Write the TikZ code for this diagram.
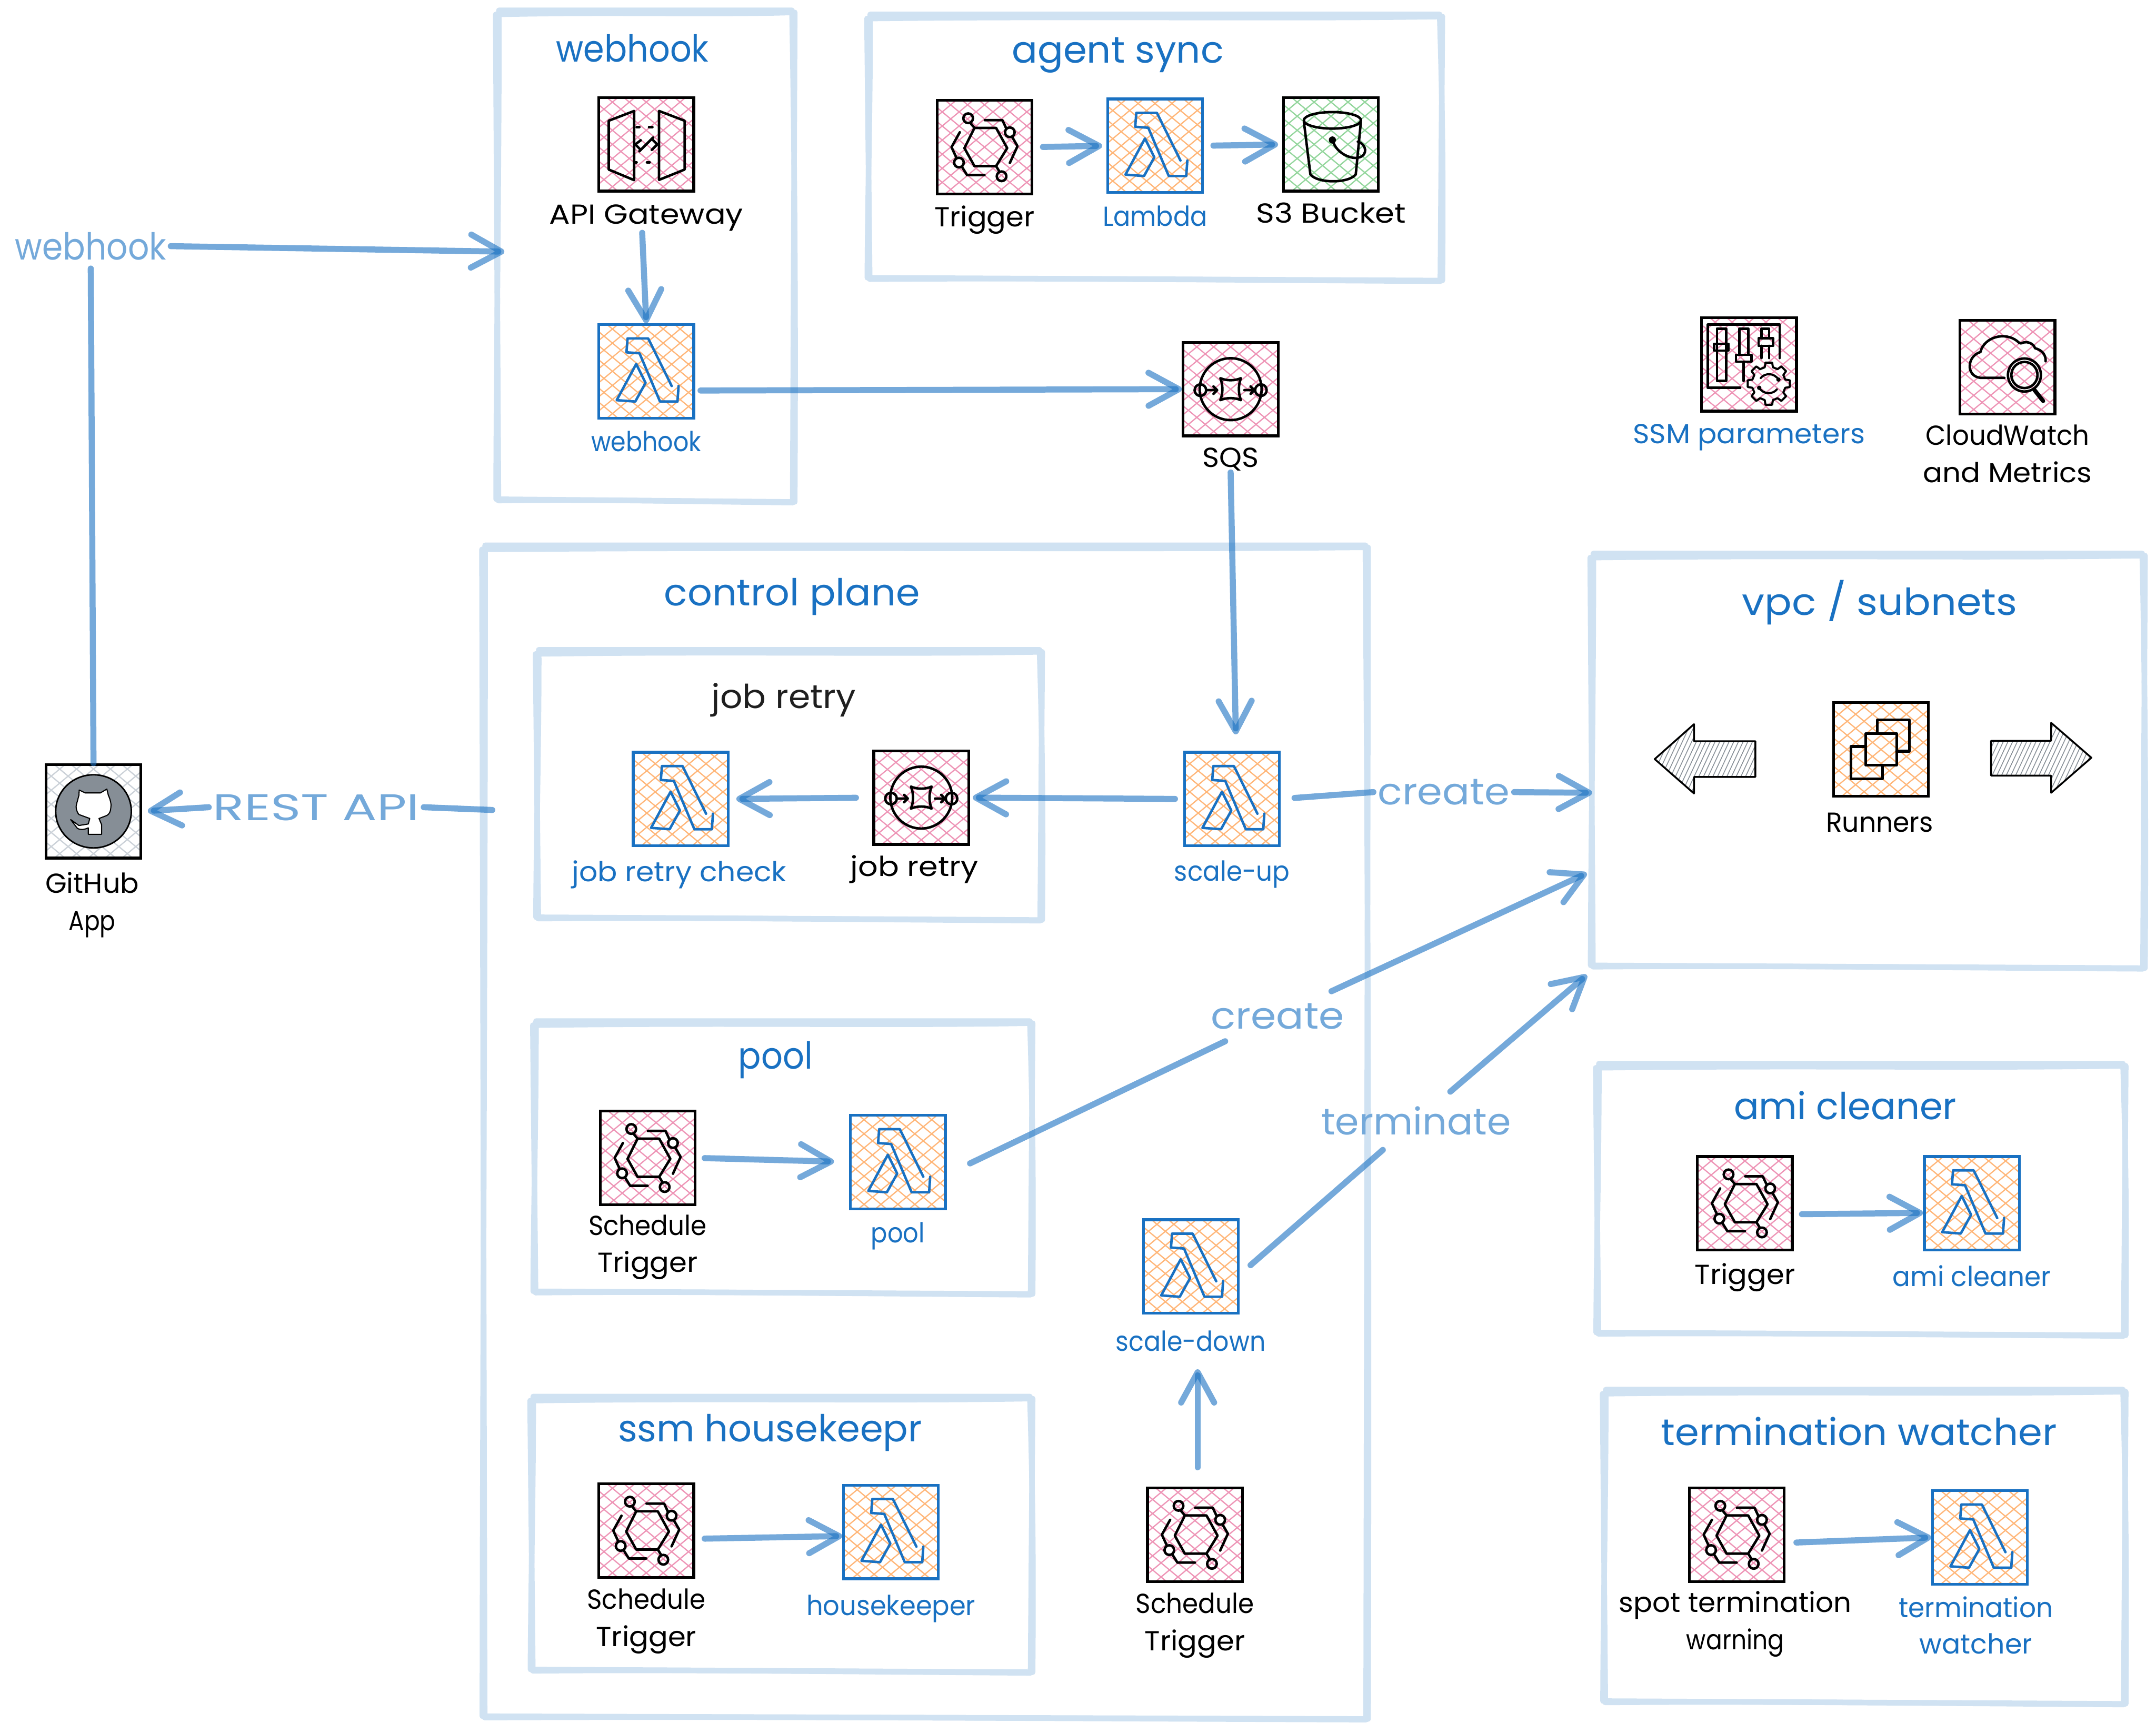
\documentclass[tikz,border=0pt]{standalone}
\usepackage{fontspec}
\usepackage{graphicx}
\setmainfont{Poppins}
\usetikzlibrary{arrows.meta,calc}
\definecolor{cbox}{HTML}{D0E2F2}
\definecolor{bluet}{HTML}{1971C2}
\definecolor{flowt}{HTML}{74A9DA}
\definecolor{hpink}{HTML}{EE94B6}
\definecolor{horange}{HTML}{FFB678}
\definecolor{hgreen}{HTML}{93D69C}
\definecolor{hgray}{HTML}{CBD1D8}
\definecolor{ghgray}{HTML}{868E96}
\newcommand{\fitw}[2]{\resizebox{#1pt}{\height}{#2}}
\tikzset{
  x=1pt,y=-1pt,
  iconbox/.style={draw,line width=2pt,minimum width=69pt,minimum height=68pt,inner sep=0pt},
  glyph/.style={line width=1.8pt,line join=round,line cap=round},
  cstroke/.style={draw=cbox,line width=4pt,line cap=round,line join=round},
  sarrow/.style={draw=bluet,draw opacity=.6,line width=4.4pt,line cap=round,-{Straight Barb[length=22pt,width=24pt,line cap=round,round]}},
  sline/.style={draw=bluet,draw opacity=.6,line width=4.4pt,line cap=round},
  lbla/.style={inner sep=1pt,align=center,text=black,font=\fontsize{20}{27}\selectfont},
  lblb/.style={inner sep=1pt,align=center,text=bluet,font=\fontsize{20}{26.5}\selectfont},
  ttlb/.style={inner sep=1pt,align=center,text=bluet,font=\fontsize{27}{30}\selectfont},
  ttlk/.style={inner sep=1pt,align=center,text=black!88,font=\fontsize{24}{30}\selectfont},
  flowl/.style={inner sep=3pt,align=center,text=flowt,font=\fontsize{27}{30}\selectfont},
  hatchline/.style={line width=.9pt},
  blockhatch/.style={draw=ghgray,line width=.6pt},
  blockedge/.style={draw=black,line width=1.3pt,line join=round},
}
% container: named rectangle with two loose strokes
\newcommand{\sketchrect}[5]{%
  \path (#2,#3) coordinate (#1nw) (#4,#5) coordinate (#1se);
  \node[inner sep=0pt,minimum width={#4-#2},minimum height={#5-#3}] (#1) at ({(#2+#4)/2},{(#3+#5)/2}) {};
  \draw[cstroke] (#2-1.5,#3+1.5) .. controls ({#2+(#4-#2)*.4},#3-.5) and ({#2+(#4-#2)*.7},#3+2) .. (#4+1,#3) -- (#4-.5,#5+1.5) .. controls ({#2+(#4-#2)*.6},#5+.5) and ({#2+(#4-#2)*.3},#5-1) .. (#2+.5,#5) -- cycle;
  \draw[cstroke] (#2+.8,#3-1.5) -- (#4-1,#3-1.5) .. controls (#4+1.5,{#3+(#5-#3)*.4}) and (#4+1.5,{#3+(#5-#3)*.7}) .. (#4+1,#5+1) -- (#2-1.2,#5-1) .. controls (#2-1,{#3+(#5-#3)*.7}) and (#2+1,{#3+(#5-#3)*.3}) .. cycle;
}
% icon box: name, cx, cy, hatch colour, border colour, glyph
\newcommand{\iconat}[6]{%
  \begin{scope}[shift={(#2,#3)}]
    \begin{scope}
      \clip (-34.5,-34) rectangle (34.5,34);
      \foreach \i in {-9,...,9}{
        \draw[#4,hatchline] ({\i*12.3-42},-35) -- ({\i*12.3+42},35);
        \draw[#4,hatchline] ({\i*12.3+42},-35) -- ({\i*12.3-42},35);
      }
    \end{scope}
    \node[iconbox,draw=#5] (#1) at (0,0) {};
    #6
  \end{scope}}
\newcommand{\lambdaglyph}{%
  \draw[glyph,bluet] (18.5,10.7) -- (1.4,-23.9) -- (-13.6,-23.9) -- (-14.4,-13.8) -- (-4.9,-13.1) -- (10,22) -- (22.7,22) -- (23.5,10.7);
  \draw[glyph,bluet] (-7.3,-5.3) -- (-.5,8.4) -- (-8,22) -- (-21.5,21) -- cycle;}
\newcommand{\triggerglyph}{%
  \draw[glyph] (-7.3,-14) -- (8.4,-14) -- (16.5,.7) -- (8.4,13.8) -- (-7.3,13.8) -- (-14.6,.7) -- cycle;
  \draw[glyph] (-11.9,-21) circle[radius=3.5] (-10.5,-17.8) -- (-7.3,-14);
  \draw[glyph] (.2,-19.6) -- (13,-19.6) -- (15.8,-13.6);
  \draw[glyph] (18.4,-10.8) circle[radius=3.5] (20,-7.6) -- (24,-.7) -- (18.4,11.5);
  \draw[glyph] (-18,-10.8) -- (-24,0) -- (-20.5,7.6);
  \draw[glyph] (-18.6,11.2) circle[radius=3.5] (-16.5,14.2) -- (-12.7,20.3) -- (0,20.3);
  \draw[glyph] (12.4,21.2) circle[radius=3.5] (11,18) -- (8.4,13.8);}
\newcommand{\sqsglyph}{%
  \draw[glyph] (0,0) circle[radius=22.5];
  \draw[glyph] (-22,.7) circle[radius=4.2] (22,.7) circle[radius=4.2];
  \draw[glyph] (-7.5,-8) .. controls (-3,-6) and (3,-6) .. (7.5,-8) .. controls (5.5,-3) and (5.5,3) .. (7.5,8) .. controls (3,6) and (-3,6) .. (-7.5,8) .. controls (-5.5,3) and (-5.5,-3) .. cycle;
  \draw[glyph] (-17,.7) -- (-10,.7) (-12.5,-2) -- (-9.8,.7) -- (-12.5,3.4);
  \draw[glyph] (10,.7) -- (17,.7) (14.5,-2) -- (17.2,.7) -- (14.5,3.4);}
\newcommand{\apiglyph}{%
  \draw[glyph] (-8.8,-24.3) -- (-27.3,-17.2) -- (-27.3,18.3) -- (-8.8,26) -- cycle;
  \draw[glyph] (9.3,-24.3) -- (27.9,-17.2) -- (27.9,18.3) -- (9.3,25.8) -- cycle;
  \draw[glyph] (-7,-12.6) -- (-5,-12.6) (2,-12.6) -- (4.5,-12.6) (-8.8,13) -- (-7,13) (.5,13) -- (2.5,13);
  \draw[glyph] (-4,-3) -- (-8,0) -- (-4,4) (4,-4) -- (8,0) -- (4,4) (-5,5) -- (5,-5);}
\newcommand{\bucketglyph}{%
  \draw[glyph] (1,-17.5) ellipse[x radius=20.8,y radius=6];
  \draw[glyph] (-19.7,-16.2) -- (-15,21.8) .. controls (-10,28.5) and (13,28.5) .. (18,21.8) -- (21.7,-16.2);
  \fill (1,-3.2) circle[radius=2.6];
  \draw[glyph] (1.5,-2) .. controls (4,6) and (14,11) .. (20,9.6) .. controls (27,8) and (26,0) .. (19.5,-2);}
\newcommand{\ssmglyph}{%
  \draw[glyph] (-6.4,17) -- (-30,17) -- (-30,-29) -- (22.3,-29) -- (22.3,-4.6);
  \draw[glyph] (-23.3,-26) rectangle (-16.7,12);
  \draw[glyph] (-25.4,-15) rectangle (-15,-10);
  \draw[glyph] (-7,-26) rectangle (-.5,-7);
  \draw[glyph] (-9.5,-7) rectangle (1.8,-2);
  \draw[glyph] (-4,-2) -- (-4,12);
  \draw[glyph] (9,-26) rectangle (14.6,-19);
  \draw[glyph] (7,-19) rectangle (17.4,-13.5);
  \draw[glyph] (9,-13.5) -- (9,-4.6) (14.6,-13.5) -- (14.6,-4.6);
  \begin{scope}[shift={(14.4,14)}]
    \foreach \a in {0,45,...,315}{
      \draw[glyph,line width=1.5pt] (\a-9:15.5) -- (\a+9:15.5) -- (\a+14:12.3) -- (\a+31:12.3) -- (\a+36:15.5);
    }
    \draw[glyph,line width=1.5pt] (-6,-4) .. controls (-3,-8) and (4,-8) .. (7,-3);
    \draw[glyph,line width=1.5pt] (6,4) .. controls (3,8) and (-4,8) .. (-7,3);
    \fill (7,-3) circle[radius=1.6] (-7,3) circle[radius=1.6];
  \end{scope}}
\newcommand{\cwglyph}{%
  \draw[glyph] (-2.3,7.8) -- (-18.5,7.8) .. controls (-25,7.8) and (-28,3) .. (-27.4,-1.6) .. controls (-27,-7) and (-23,-10) .. (-19.7,-11) .. controls (-17,-22) and (-2,-26) .. (7,-19) .. controls (9,-17) and (10,-17) .. (11,-17.8) .. controls (15,-19) and (19,-17) .. (20,-13.8) .. controls (25,-12.5) and (28,-9) .. (27.7,-4.3);
  \draw[glyph] (12.3,5.7) circle[radius=12] (12.3,5.7) circle[radius=9.5];
  \draw[line width=3pt,line cap=round] (19.5,16.5) -- (25.9,24.6);}
\newcommand{\runnerglyph}{%
  \draw[glyph,line width=2pt] (-2.6,-11.6) -- (-2.6,-21.6) -- (20.5,-21.6) -- (20.5,1.3) -- (11.3,1.3);
  \draw[glyph,line width=2pt] (-11,-2.2) -- (-21.8,-2.2) -- (-21.8,21.4) -- (1,21.4) -- (1,11.4);
  \draw[glyph,line width=2pt] (-11,-11.6) rectangle (11.3,11.4);}
\newcommand{\ghglyph}{%
  \draw[line width=1.1pt,fill=ghgray] (0,0) ellipse[x radius=27.5,y radius=26.6];
  \draw[line width=.8pt,fill=white,line join=round] (-10.4,-15.5) -- (-6,-13.4) -- (5,-13.4) -- (9.7,-16.2) -- (10.8,-11.7) .. controls (12.5,-8) and (13,-5) .. (12.6,-2.7) .. controls (12.5,0) and (11.5,2) .. (9.7,3) -- (4,5.2) -- (5.9,9.7) -- (5.9,16.7) -- (-3.8,16.7) -- (-3.8,12) .. controls (-7,13.5) and (-10,13.5) .. (-11.7,12.4) -- (-16.6,6) -- (-10.6,10.3) -- (-3.8,9.2) -- (-2.7,5.2) -- (-10.6,2.3) .. controls (-12.5,0) and (-13,-3) .. (-12.4,-5) -- (-10.6,-11.7) -- cycle;}
\begin{document}
\begin{tikzpicture}
\useasboundingbox[fill=white] (0,0) rectangle (1568,1260.2);

% containers
\sketchrect{cwebhook}{362}{9}{577}{364}
\sketchrect{cagent}{632}{12}{1048}{203}
\sketchrect{ccontrol}{352}{398}{994}{1249}
\sketchrect{cjob}{391}{474}{757}{668}
\sketchrect{cpool}{389}{744}{750}{940}
\sketchrect{cssm}{387}{1017}{750}{1215}
\sketchrect{cvpc}{1158}{404}{1559}{703}
\sketchrect{cami}{1162}{775}{1545}{970}
\sketchrect{cterm}{1167}{1012}{1545}{1238}

% block arrows
\begin{scope}
  \clip (1203.4,552) -- (1232,526.6) -- (1232,539) -- (1276.6,539) -- (1276.6,565) -- (1232,565) -- (1232,577) -- cycle;
  \foreach \i in {0,...,28}{\draw[blockhatch] ({1190+\i*3.4},582) -- ({1190+\i*3.4+28},522);}
\end{scope}
\draw[blockedge] (1203.4,552) -- (1232,526.6) -- (1232,539) -- (1276.6,539) -- (1276.6,565) -- (1232,565) -- (1232,577) -- cycle;
\begin{scope}
  \clip (1521,551) -- (1491.7,525.6) -- (1491.7,538.7) -- (1448,538.7) -- (1448,564) -- (1491.7,564) -- (1491.7,576.5) -- cycle;
  \foreach \i in {0,...,28}{\draw[blockhatch] ({1420+\i*3.4},582) -- ({1420+\i*3.4+28},522);}
\end{scope}
\draw[blockedge] (1521,551) -- (1491.7,525.6) -- (1491.7,538.7) -- (1448,538.7) -- (1448,564) -- (1491.7,564) -- (1491.7,576.5) -- cycle;

% icons
\iconat{apigw}{470}{105}{hpink}{black}{\apiglyph}
\iconat{lamwh}{470}{270}{horange}{bluet}{\lambdaglyph}
\iconat{trag}{716}{107}{hpink}{black}{\triggerglyph}
\iconat{lamag}{840}{106}{horange}{bluet}{\lambdaglyph}
\iconat{sthree}{968}{105}{hgreen}{black}{\bucketglyph}
\iconat{sqs}{895}{283}{hpink}{black}{\sqsglyph}
\iconat{ssm}{1272}{265}{hpink}{black}{\ssmglyph}
\iconat{cw}{1460}{267}{hpink}{black}{\cwglyph}
\iconat{gh}{68}{590}{hgray}{black}{\ghglyph}
\iconat{runners}{1368}{545}{horange}{black}{\runnerglyph}
\iconat{lamjrc}{495}{581}{horange}{bluet}{\lambdaglyph}
\iconat{sqsjr}{670}{580}{hpink}{black}{\sqsglyph}
\iconat{lamup}{896}{581}{horange}{bluet}{\lambdaglyph}
\iconat{trpool}{471}{842}{hpink}{black}{\triggerglyph}
\iconat{lampool}{653}{845}{horange}{bluet}{\lambdaglyph}
\iconat{trssm}{470}{1113}{hpink}{black}{\triggerglyph}
\iconat{lamhk}{648}{1114}{horange}{bluet}{\lambdaglyph}
\iconat{lamdown}{866}{921}{horange}{bluet}{\lambdaglyph}
\iconat{trdown}{869}{1116}{hpink}{black}{\triggerglyph}
\iconat{trami}{1269}{875}{hpink}{black}{\triggerglyph}
\iconat{lamami}{1434}{875}{horange}{bluet}{\lambdaglyph}
\iconat{trterm}{1263}{1116}{hpink}{black}{\triggerglyph}
\iconat{lamterm}{1440}{1118}{horange}{bluet}{\lambdaglyph}

% labels
\node[ttlb] (twebhook) at (460,35) {\fitw{111}{webhook}};
\node[lbla] (lapi) at (470,158.5) {\fitw{141}{API Gateway}};
\node[lblb] (lwh) at (470,321) {\fitw{80}{webhook}};
\node[ttlb] (tagent) at (813,40) {\fitw{154}{agent sync}};
\node[lbla] (ltrag) at (716,160) {\fitw{73}{Trigger}};
\node[lblb] (llamag) at (840,157) {\fitw{76}{Lambda}};
\node[lbla] (lsthree) at (968,155) {\fitw{109}{S3 Bucket}};
\node[lbla] (lsqs) at (895,334) {\fitw{41}{SQS}};
\node[lblb] (lssm) at (1272,318) {\fitw{169}{SSM parameters}};
\node[lbla] (lcw) at (1460,330) {\fitw{119}{CloudWatch}\\\fitw{123}{and Metrics}};
\node[ttlb] (tcontrol) at (576,434) {\fitw{186}{control plane}};
\node[ttlk] (tjob) at (570,509) {\fitw{105}{job retry}};
\node[lblb] (ljrc) at (494,636) {\fitw{156}{job retry check}};
\node[lbla] (ljr) at (665,632) {\fitw{93}{job retry}};
\node[lblb] (lup) at (896,636) {\fitw{84}{scale-up}};
\node[lbla] (lgh) at (67,658) {\fitw{68}{GitHub}\\\fitw{34}{App}};
\node[ttlb] (tvpc) at (1367,438) {\fitw{200}{vpc / subnets}};
\node[lbla] (lrun) at (1367,598) {\fitw{78}{Runners}};
\node[ttlb] (tpool) at (564,771) {\fitw{54}{pool}};
\node[lbla] (ltrpool) at (471,907) {\fitw{86}{Schedule}\\\fitw{73}{Trigger}};
\node[lblb] (lpool) at (653,899) {\fitw{39}{pool}};
\node[ttlb] (tami) at (1342,804) {\fitw{162}{ami cleaner}};
\node[lbla] (ltrami) at (1269,929) {\fitw{73}{Trigger}};
\node[lblb] (llamami) at (1434,928) {\fitw{115}{ami cleaner}};
\node[lblb] (ldown) at (866,975) {\fitw{109}{scale-down}};
\node[ttlb] (tssm) at (560,1042) {\fitw{221}{ssm housekeepr}};
\node[lbla] (ltrssm) at (470,1179) {\fitw{86}{Schedule}\\\fitw{73}{Trigger}};
\node[lblb] (lhk) at (648,1170) {\fitw{123}{housekeeper}};
\node[lbla] (ltrdown) at (869,1182) {\fitw{86}{Schedule}\\\fitw{73}{Trigger}};
\node[ttlb] (tterm) at (1352,1041) {\fitw{288}{termination watcher}};
\node[lbla] (ltrterm) at (1262,1181) {\fitw{169}{spot termination}\\\fitw{71}{warning}};
\node[lblb] (llamterm) at (1437,1182) {\fitw{112}{termination}\\\fitw{82}{watcher}};

% flow labels (the connectors stop at their edges)
\node[flowl] (fwebhook) at (66,179) {\fitw{110}{webhook}};
\node[flowl] (frest) at (230,587) {\fitw{150}{REST API}};
\node[flowl] (fcreatea) at (1050,576) {\fitw{96}{create}};
\node[flowl,minimum height=36pt] (fcreateb) at (929,739) {\fitw{97}{create}};
\node[flowl,minimum height=42pt] (fterm) at (1030,815) {\fitw{138}{terminate}};

% free ends
\coordinate (apirest) at (358,589);
\coordinate (vpcpool) at (1154,635);
\coordinate (vpcdown) at (1154,709);

% connectors
\draw[sarrow] (fwebhook.east) -- ($(cwebhook.west)+(5,-3.5)$);
\draw[sline,shorten >=3pt] (gh.north) -- (fwebhook.south);
\draw[sarrow,shorten <=1pt] ($(lapi.south)+(-3,-1)$) -- (lamwh.north);
\draw[sarrow,shorten <=4pt] ($(lamwh.east)+(0,14)$) -- (sqs.west);
\draw[sarrow,shorten >=12pt] (lsqs.south) -- ($(lamup.north)+(3,0)$);
\draw[sarrow,shorten <=6pt,shorten >=2pt] (lamup.west) -- (sqsjr.east);
\draw[sarrow,shorten <=12pt,shorten >=5pt] (sqsjr.west) -- (lamjrc.east);
\draw[sline] (apirest) -- (frest.east);
\draw[sarrow,shorten >=4pt] (frest.west) -- (gh.east);
\draw[sline,shorten <=10pt] (lamup.east) -- (fcreatea.west);
\draw[sarrow] (fcreatea.east) -- ($(cvpc.west)+(0,23)$);
\draw[sline] ($(lampool.east)+(17,1)$) -- (fcreateb);
\draw[sarrow] (fcreateb) -- (vpcpool);
\draw[sline] ($(lamdown.east)+(8,-1)$) -- (fterm);
\draw[sarrow] (fterm) -- (vpcdown);
\draw[sarrow,shorten <=14pt,shorten >=12pt] ($(trdown.north)+(2,0)$) -- ($(ldown.south)+(5,0)$);
\draw[sarrow,shorten <=6pt,shorten >=11pt] (trpool.east) -- (lampool.west);
\draw[sarrow,shorten <=7pt,shorten >=0pt] ($(trssm.east)+(0,6)$) -- ($(lamhk.west)+(0,3)$);
\draw[sarrow,shorten <=6pt,shorten >=0pt] ($(trami.east)+(0,8)$) -- ($(lamami.west)+(0,7)$);
\draw[sarrow,shorten <=8pt,shorten >=0pt] ($(trterm.east)+(0,6)$) -- (lamterm.west);
\draw[sarrow,shorten <=7pt,shorten >=3pt] (trag.east) -- (lamag.west);
\draw[sarrow,shorten <=7pt,shorten >=3pt] (lamag.east) -- (sthree.west);
\end{tikzpicture}
\end{document}
